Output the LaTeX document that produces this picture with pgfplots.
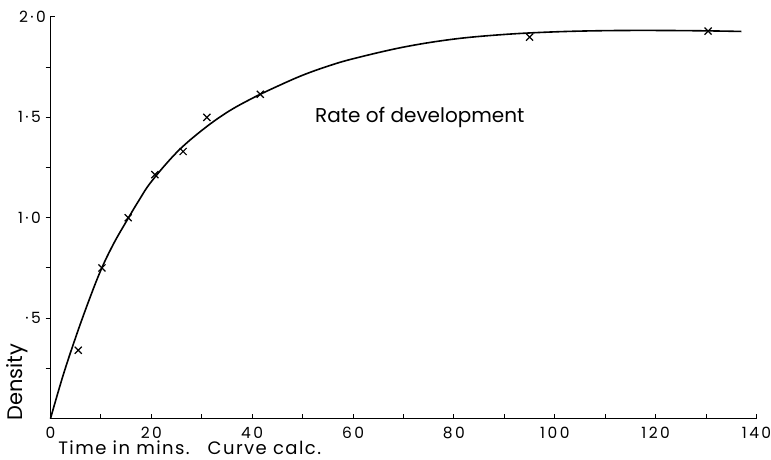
\documentclass[border=0pt]{standalone}
\usepackage{fontspec}
\setmainfont{Poppins}
\newfontfamily\tickfont{Poppins}[LetterSpace=16]
\newfontfamily\labfont{Poppins}[LetterSpace=8]
\usepackage{pgfplots}
\pgfplotsset{compat=1.18}
\begin{document}
\begin{tikzpicture}
\useasboundingbox (-50.5pt,-40.5pt) rectangle (720.5pt,418.5pt);
\begin{axis}[
  at={(0,0)}, anchor=south west,
  x=5.043pt, y=200.75pt,
  xmin=0, xmax=140, ymin=0, ymax=2,
  axis lines=left,
  axis line style={-, line width=1.1pt},
  clip=false,
  tick align=outside,
  major tick length=5pt,
  every tick/.style={line width=1pt, black},
  x tick style={yshift=5pt},
  xtick={0,10,...,140},
  xticklabels={0,,20,,40,,60,,80,,100,,120,,140},
  ytick={0.25,0.5,...,1.75},
  yticklabels={,·5,,1·0,,1·5,},
  extra y ticks={2},
  extra y tick labels={2·0},
  extra y tick style={tick align=inside},
  tick label style={font=\tickfont\fontsize{15.5}{15.5}\selectfont},
  xticklabel style={inner sep=0.5pt, yshift=-2.5pt},
  yticklabel style={xshift=-1pt},
]
\addplot[black, line width=1.6pt, smooth, tension=0.6] coordinates {
(0,0) (2.5,0.215) (5,0.405) (7.5,0.58) (10,0.74) (12.5,0.87) (15,0.98)
(17.5,1.085) (20,1.18) (25,1.325) (30,1.435) (35,1.525) (40,1.595)
(45,1.655) (50,1.71) (55,1.755) (60,1.792) (70,1.850) (80,1.890)
(90,1.913) (100,1.926) (110,1.932) (120,1.933) (130,1.931) (137,1.928)
};
\addplot[black, only marks, mark=x, mark size=5pt, mark options={line width=1.2pt}] coordinates {
(5.5,0.34) (10.2,0.75) (15.4,1.00) (20.7,1.215) (26.3,1.33) (31.0,1.50)
(41.6,1.615) (95.0,1.90) (130.4,1.93)
};
\node[anchor=base west, font=\fontsize{20}{20}\selectfont, inner sep=0pt] at (axis cs:52.45,1.472) {Rate of development};
\node[rotate=90, font=\fontsize{21}{21}\selectfont] at (axis cs:-6.6,0.18) {Density};
\node[anchor=base west, font=\labfont\fontsize{18}{18}\selectfont, inner sep=0pt] at (axis cs:1.5,-0.177) {Time in mins.\hspace{1em}Curve calc.};
\end{axis}
\end{tikzpicture}
\end{document}
